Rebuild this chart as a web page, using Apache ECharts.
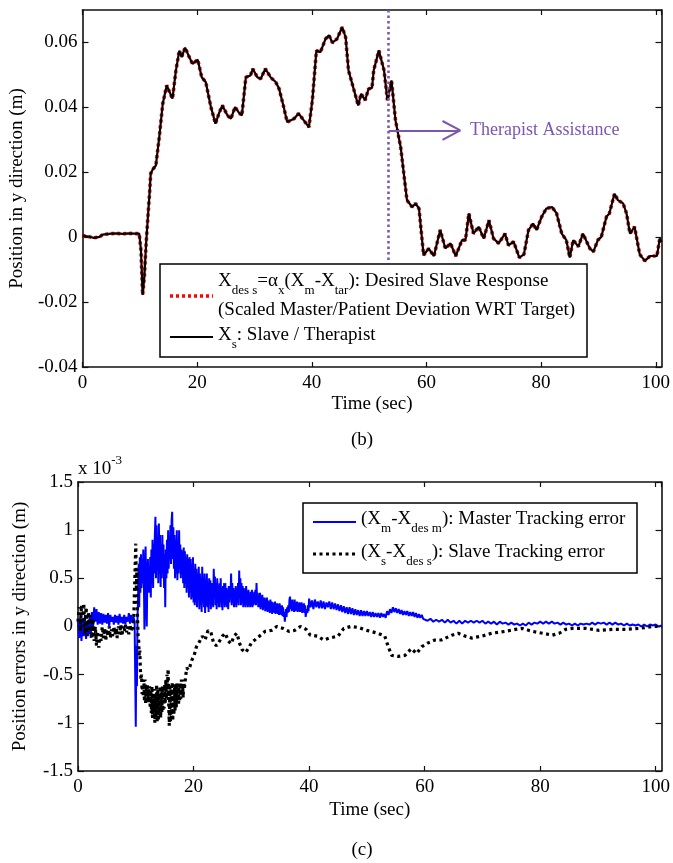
<!DOCTYPE html>
<html>
<head>
<meta charset="utf-8">
<script src="https://cdn.jsdelivr.net/npm/echarts@6/dist/echarts.min.js"></script>
<style>
  html, body { margin: 0; padding: 0; background: #fff; }
  #chart { width: 673px; height: 863px; }
</style>
</head>
<body>
<div id="chart"></div>
<script>
const SERIF = '"Liberation Serif", "Times New Roman", serif';
const FS = 19;
const PURPLE = '#7d56ad';

// (b) slave position in y (m) over time (sec); desired and actual overlap within the line width
const posTime = [0,1,2,3,3.5,5,6,7,8,9,9.9,10.2,10.5,10.8,11.1,11.4,11.7,11.9,12.3,12.8,13.4,14.0,14.7,15.0,15.3,15.7,16.3,16.9,17.3,17.9,18.5,19.2,20.1,20.8,21.5,22.4,23.2,23.8,24.4,25.3,25.9,26.6,27.2,27.8,28.5,29.3,29.7,30.5,31.1,31.9,32.8,33.7,34.3,35.1,35.7,36.9,37.7,38.6,39.5,40.1,40.8,41.5,42.4,43.0,43.6,44.4,45.3,45.9,46.4,47.3,48.1,48.6,49.3,49.9,50.5,50.8,51.7,52.6,53.2,53.9,54.6,55.5,56.6,57.5,58.1,58.7,59.5,60.4,61.3,62.4,63.3,64.2,65.1,66.2,66.8,67.4,68.2,69.1,70.0,70.9,71.7,72.6,73.7,74.3,75.2,76.2,77.0,77.8,78.6,79.2,80.1,80.9,81.9,82.7,83.6,84.4,85.0,85.6,86.5,87.3,88.5,89.1,89.9,90.5,91.4,91.9,92.8,93.4,94.3,94.9,95.5,96.3,97.2,98.1,99.0,100.2,100.7,101];
const slavePos = [0.0005,0.0002,-0.0002,0.0001,0.0008,0.0011,0.0012,0.0010,0.0012,0.0011,0.0011,-0.004,-0.0178,-0.012,-0.002,0.006,0.0134,0.0196,0.021,0.0221,0.0309,0.0411,0.0468,0.0455,0.0452,0.0427,0.0514,0.0575,0.0555,0.0584,0.0560,0.0534,0.0547,0.0493,0.0478,0.0401,0.0350,0.0381,0.0406,0.0375,0.0365,0.0401,0.0386,0.0375,0.0493,0.0498,0.0519,0.0493,0.0488,0.0519,0.0493,0.0478,0.0457,0.0401,0.0355,0.0365,0.0381,0.0360,0.0339,0.0422,0.0575,0.0570,0.0611,0.0622,0.0599,0.0611,0.0647,0.0616,0.0514,0.0457,0.0406,0.0442,0.0422,0.0457,0.0460,0.0514,0.0575,0.0514,0.0422,0.0483,0.0360,0.0278,0.0114,0.0093,0.0104,0.0088,-0.0055,-0.0035,-0.0058,0.0022,-0.0035,-0.0019,-0.0058,-0.0009,-0.0009,0.0073,0.0011,0.0032,-0.0004,0.0052,-0.0004,-0.0019,0.0011,-0.0025,-0.0014,-0.0063,-0.0053,0.0022,0.0042,0.0022,0.0063,0.0088,0.0093,0.0073,0.0011,-0.0009,-0.0063,-0.0009,-0.0029,0.0011,-0.0035,-0.0045,-0.0009,0.0001,0.0063,0.0073,0.0134,0.0114,0.0104,0.0073,0.0011,0.0032,-0.0053,-0.0073,-0.0058,-0.0058,-0.0004,-0.0015];

// (c) master tracking error (x 1e-3 m), recorded in blocks of fixed sample spacing
const masterEarly = [ // from 0 s, every 0.2 s
  0.05,-0.12,0.10,-0.15,0.08,-0.10,0.12,-0.13,0.05,-0.08,
  0.10,-0.12,0.15,0.00,0.20,0.05,0.18,0.02,0.15,0.03,
  0.14,0.02,0.13,0.04,0.12,0.03,0.14,0.00,0.12,0.05,
  0.10,0.02,0.12,0.04,0.11,0.02,0.13,0.04,0.10,0.03,
  0.12,0.02,0.10,0.05,0.14,0.03,0.12,0.04,0.10,0.05];
const masterSpikeTime = [10.0,10.1,10.2,10.3];
const masterSpike = [-1.04,-0.2,-0.62,0.1];
const masterDense = [ // from 10.4 s, every 0.1 s
  0.30,0.65,0.20,0.72,0.35,0.75,0.40,0.62,0.45,0.80,
  0.50,-0.03,0.55,0.83,0.30,0.00,0.50,0.70,0.35,0.60,
  0.35,0.72,0.30,0.80,0.45,0.90,0.40,0.85,0.55,0.95,
  1.14,0.50,1.05,0.60,0.90,0.45,1.07,0.55,0.95,0.41,
  0.85,0.50,0.95,0.60,0.85,0.40,0.75,0.20,0.80,0.50,
  0.90,0.55,1.00,0.60,0.95,0.70,1.05,0.65,1.10,1.19,
  0.70,1.03,0.60,0.95,0.50,0.90,0.55,1.00,0.48,0.85,
  0.55,1.00,0.60,0.85,0.50,0.80,0.55,0.78,0.45,0.82,
  0.40,0.78,0.45,0.72,0.35,0.75,0.40,0.70,0.30,0.72,
  0.35,0.70,0.28,0.65,0.30,0.72,0.25,0.60,0.22,0.65,
  0.25,0.60,0.20,0.55,0.30,0.62,0.18,0.55,0.22,0.50,
  0.15,0.62,0.25,0.50,0.20,0.55,0.14,0.48,0.22,0.55,
  0.20,0.45,0.15,0.50,0.25,0.48,0.18,0.45,0.22,0.42,
  0.20,0.60,0.30,0.52,0.22,0.45,0.18,0.50,0.25,0.42,
  0.20,0.45,0.25,0.50,0.20,0.40,0.17,0.42,0.25,0.45,
  0.20,0.45,0.22,0.40,0.20,0.38,0.18,0.42,0.25,0.40,
  0.30,0.55,0.22,0.45,0.25,0.40,0.20,0.38,0.22,0.42,
  0.20,0.40,0.25,0.45,0.22,0.58,0.30,0.50,0.22,0.45,
  0.25,0.42,0.20,0.40,0.22,0.38,0.20,0.42,0.25,0.36,
  0.20,0.38,0.22,0.35,0.20,0.36,0.21,0.38,0.20,0.34,
  0.22,0.36,0.24,0.38,0.22,0.45,0.25,0.35,0.20,0.33,
  0.20,0.35,0.18,0.32,0.20,0.33,0.17,0.30,0.19,0.30,
  0.16,0.28,0.17,0.30,0.15,0.27,0.16,0.26,0.14,0.28,
  0.15,0.26,0.13,0.25,0.15,0.24,0.14,0.26,0.13,0.24,
  0.14,0.24,0.13,0.23,0.12,0.24,0.13,0.22,0.12,0.22,
  0.11,0.20,0.10,0.15,0.05,0.12,0.18,0.10,0.20,0.14,
  0.22,0.15,0.28,0.31,0.18,0.27,0.16,0.28,0.17,0.26,
  0.15,0.28,0.16,0.25,0.17,0.26,0.15,0.24,0.16,0.25,
  0.15,0.24,0.16,0.25,0.14,0.23,0.15,0.24,0.14,0.22,
  0.10,0.08,0.18,0.14,0.22,0.16];
const masterMid = [ // from 40 s, every 0.25 s
  0.29,0.20,0.27,0.18,0.28,0.20,0.26,0.19,
  0.27,0.19,0.26,0.18,0.25,0.20,0.26,0.18,
  0.25,0.18,0.24,0.17,0.23,0.16,0.22,0.15,
  0.21,0.14,0.20,0.13,0.20,0.13,0.19,0.12,
  0.18,0.12,0.17,0.11,0.17,0.11,0.16,0.11,
  0.16,0.11,0.15,0.10,0.15,0.10,0.14,0.10,
  0.14,0.09,0.14,0.10,0.13,0.09,0.16,0.12,
  0.18,0.14,0.20,0.15,0.19,0.14,0.18,0.13,
  0.17,0.12,0.16,0.12,0.16,0.11,0.15,0.11,
  0.15,0.10,0.14,0.09,0.13,0.09,0.12,0.08];
const masterLate = [ // from 60 s, every 0.5 s
  0.09,0.06,0.08,0.05,0.07,0.05,0.07,0.04,
  0.07,0.04,0.06,0.03,0.06,0.03,0.06,0.04,
  0.06,0.04,0.06,0.04,0.06,0.03,0.05,0.03,
  0.05,0.02,0.05,0.03,0.04,0.02,0.04,0.02,
  0.03,0.01,0.03,0.01,0.04,0.02,0.04,0.03,
  0.05,0.03,0.05,0.03,0.05,0.03,0.04,0.02,
  0.04,0.02,0.03,0.01,0.03,0.01,0.03,0.02,
  0.03,0.02,0.04,0.02,0.04,0.03,0.04,0.02,
  0.04,0.02,0.04,0.02,0.03,0.01,0.03,0.01,
  0.02,0.01,0.02,0.00,0.02,0.00,0.02,0.01,
  0.02,0.00,0.01];

// (c) slave tracking error (x 1e-3 m)
const slaveEarly = [ // from 0 s, every 0.2 s
  0.05,0.20,-0.05,0.22,0.00,0.24,-0.08,0.20,-0.10,0.15,
  -0.05,0.12,-0.12,0.08,-0.15,0.00,-0.20,-0.05,-0.22,-0.08,
  -0.15,0.00,-0.12,-0.02,-0.15,-0.03,-0.10,0.00,-0.12,-0.03,
  -0.10,0.00,-0.08,-0.02,-0.12,0.00,-0.08,0.02,-0.10,0.00,
  -0.05,0.02,-0.06,0.00,-0.08,0.02,-0.05,0.00,-0.03,-0.02];
const slaveSpikeTime = [10.0,10.1,10.2,10.3,10.4];
const slaveSpike = [0.86,0.4,0.6,0.1,-0.1];
const slaveDense = [ // from 10.5 s, every 0.1 s
  -0.15,-0.30,-0.25,-0.45,-0.55,-0.50,-0.70,-0.60,-0.73,-0.55,
  -0.78,-0.55,-0.80,-0.62,-0.72,-0.60,-0.78,-0.65,-0.80,-0.62,
  -0.85,-0.65,-0.90,-0.62,-0.95,-0.70,-0.88,-0.65,-1.00,-0.70,
  -0.95,-0.60,-1.00,-0.65,-0.98,-0.70,-0.92,-0.62,-0.95,-0.68,
  -0.90,-0.62,-0.88,-0.65,-0.85,-0.60,-0.80,-0.55,-0.75,-0.50,
  -0.62,-0.44,-0.80,-1.03,-0.60,-1.00,-0.65,-0.95,-0.58,-0.98,
  -0.65,-0.92,-0.60,-0.88,-0.62,-0.85,-0.58,-0.80,-0.62,-0.82,
  -0.60,-0.78,-0.58,-0.75,-0.55,-0.72,-0.60,-0.74,-0.55,-0.65];
const slaveTailTime = [18.8,19.2,19.7,20.1,20.5,21.0,21.5,22.0,22.5,23.0,23.5,24.0,24.5,25.0,25.5,26.0,26.5,27.0,27.5,28.0,28.4,29.0,29.6,30.0,31.0,32.4,33.5,34.4,35.5,36.5,37.5,38.5,39.5,40.2,41.5,42.5,43.5,45.0,46.0,47.2,48.5,50.0,51.9,53.1,53.7,54.3,55.4,56.6,57.7,58.6,59.5,60.6,61.8,62.9,64.7,65.8,67.0,68.1,69.9,71.6,74.0,75.7,76.9,78.6,80.4,82.1,83.3,84.4,85.6,87.9,90.2,92.5,94.8,97.1,99.4,101];
const slaveTail = [-0.43,-0.45,-0.35,-0.3,-0.21,-0.16,-0.1,-0.14,-0.04,-0.06,-0.18,-0.2,-0.15,-0.1,-0.07,-0.15,-0.18,-0.1,-0.07,-0.18,-0.24,-0.27,-0.22,-0.17,-0.12,-0.05,-0.04,0.0,-0.02,-0.05,-0.04,0.0,-0.03,-0.09,-0.1,-0.14,-0.12,-0.1,-0.02,0.0,-0.01,-0.04,-0.07,-0.1,-0.21,-0.3,-0.31,-0.3,-0.23,-0.28,-0.21,-0.17,-0.14,-0.14,-0.09,-0.07,-0.1,-0.12,-0.1,-0.07,-0.05,-0.03,-0.02,-0.05,-0.07,-0.09,-0.07,-0.03,-0.02,-0.02,-0.04,-0.03,-0.03,-0.02,0.0,0.0];

// therapist assistance marker (time in sec)
const assistTime = 53.4;

const pairs = (t, v) => t.map((x, i) => [x, v[i]]);
// block of readings taken at a fixed sample spacing
const sampled = (start, step, v) => v.map((y, i) => [+(start + i * step).toFixed(2), y]);

const masterData = [].concat(
  sampled(0, 0.2, masterEarly), pairs(masterSpikeTime, masterSpike),
  sampled(10.4, 0.1, masterDense), sampled(40, 0.25, masterMid), sampled(60, 0.5, masterLate));
const slaveErrData = [].concat(
  sampled(0, 0.2, slaveEarly), pairs(slaveSpikeTime, slaveSpike),
  sampled(10.5, 0.1, slaveDense), pairs(slaveTailTime, slaveTail));

// ---------- text helpers: runs of normal / subscript / superscript text ----------
const measureCtx = document.createElement('canvas').getContext('2d');
function textRuns(x, y, parts, size, color) {
  const out = [];
  let cx = x;
  parts.forEach(([s, kind]) => {
    const fs = kind ? 13 : size;
    const dy = kind === 'sub' ? 10 : (kind === 'sup' ? -8 : 0);
    const font = fs + 'px ' + SERIF;
    out.push({
      type: 'text', x: cx, y: y + dy,
      style: { text: s, font: font, fill: color || '#000', textAlign: 'left', textVerticalAlign: 'middle' }
    });
    measureCtx.font = font;
    cx += measureCtx.measureText(s).width;
  });
  return out;
}

// ---------- axes (boxed frame with inward ticks) ----------
const axisText = { fontFamily: SERIF, fontSize: FS, color: '#000' };
function xAxis(grid, max, position, name, nameGap) {
  const main = position === 'bottom';
  return {
    type: 'value', gridIndex: grid, position: position, min: 0, max: max, interval: 20,
    axisLine: { show: true, onZero: false, lineStyle: { color: '#111', width: 1.6 } },
    axisTick: { show: true, inside: true, length: 5, lineStyle: { color: '#111', width: 1.2 } },
    axisLabel: { show: main, ...axisText, margin: 7, showMaxLabel: false },
    splitLine: { show: false },
    name: main ? name : '', nameLocation: 'middle', nameGap: nameGap,
    nameTextStyle: axisText
  };
}
function yAxis(grid, min, max, interval, position, showMax, name, nameGap) {
  const main = position === 'left';
  return {
    type: 'value', gridIndex: grid, position: position, min: min, max: max, interval: interval,
    axisLine: { show: true, onZero: false, lineStyle: { color: '#111', width: 1.6 } },
    axisTick: { show: true, inside: true, length: 6, lineStyle: { color: '#111', width: 1.2 } },
    axisLabel: { show: main, ...axisText, margin: 5, showMaxLabel: showMax },
    splitLine: { show: false },
    name: main ? name : '', nameLocation: 'middle', nameGap: nameGap,
    nameTextStyle: axisText
  };
}

const chart = echarts.init(document.getElementById('chart'), null, { renderer: 'canvas' });

// legend boxes and annotations
const graphics = [];
graphics.push({ type: 'rect', shape: { x: 160, y: 264, width: 427, height: 93 },
  style: { fill: '#fff', stroke: '#000', lineWidth: 1.5 }, z: 100 });
graphics.push({ type: 'line', shape: { x1: 170, y1: 296, x2: 213, y2: 296 },
  style: { stroke: '#ff0000', lineWidth: 3.5, lineDash: [3, 3] }, z: 101 });
graphics.push({ type: 'line', shape: { x1: 170, y1: 337, x2: 213, y2: 337 },
  style: { stroke: '#000', lineWidth: 2.2 }, z: 101 });
graphics.push(...textRuns(218, 281, [['X'], ['des s', 'sub'], ['=\u03b1'], ['x', 'sub'], ['(X'], ['m', 'sub'], ['-X'], ['tar', 'sub'], ['): Desired Slave Response']], FS));
graphics.push(...textRuns(218, 310, [['(Scaled Master/Patient Deviation WRT Target)']], FS));
graphics.push(...textRuns(218, 335, [['X'], ['s', 'sub'], [': Slave / Therapist']], FS));

graphics.push({ type: 'rect', shape: { x: 303, y: 503, width: 334, height: 70 },
  style: { fill: '#fff', stroke: '#000', lineWidth: 1.5 }, z: 100 });
graphics.push({ type: 'line', shape: { x1: 313, y1: 522, x2: 356, y2: 522 },
  style: { stroke: '#0000ff', lineWidth: 2 }, z: 101 });
graphics.push({ type: 'line', shape: { x1: 313, y1: 554, x2: 356, y2: 554 },
  style: { stroke: '#000', lineWidth: 3.2, lineDash: [3, 3.5] }, z: 101 });
graphics.push(...textRuns(361, 519, [['(X'], ['m', 'sub'], ['-X'], ['des m', 'sub'], ['): Master Tracking error']], FS));
graphics.push(...textRuns(361, 552, [['(X'], ['s', 'sub'], ['-X'], ['des s', 'sub'], ['): Slave Tracking error']], FS));

graphics.push(...textRuns(78, 469, [['x 10'], ['-3', 'sup']], FS));
graphics.push({ type: 'text', x: 362, y: 440, style: { text: '(b)', font: FS + 'px ' + SERIF, fill: '#000', textAlign: 'center', textVerticalAlign: 'middle' } });
graphics.push({ type: 'text', x: 362, y: 850, style: { text: '(c)', font: FS + 'px ' + SERIF, fill: '#000', textAlign: 'center', textVerticalAlign: 'middle' } });
graphics.forEach(g => { if (g.z === undefined) g.z = 102; });

const option = {
  animation: false,
  backgroundColor: '#fff',
  grid: [
    { left: 80, top: 10, width: 582, height: 357 },
    { left: 78, top: 482, width: 584, height: 289 }
  ],
  xAxis: [
    xAxis(0, 101, 'bottom', 'Time (sec)', 28),
    xAxis(0, 101, 'top'),
    xAxis(1, 101, 'bottom', 'Time (sec)', 30),
    xAxis(1, 101, 'top')
  ],
  yAxis: [
    yAxis(0, -0.04, 0.07, 0.02, 'left', false, 'Position in y direction (m)', 53),
    yAxis(0, -0.04, 0.07, 0.02, 'right', false),
    yAxis(1, -1.5, 1.5, 0.5, 'left', true, 'Position errors in y direction (m)', 48),
    yAxis(1, -1.5, 1.5, 0.5, 'right', true)
  ],
  series: [
    {
      name: 'Desired slave response', type: 'line', xAxisIndex: 0, yAxisIndex: 0,
      data: pairs(posTime, slavePos), showSymbol: false, silent: true,
      lineStyle: { color: '#ff0000', width: 3.6, type: [3, 3] }, z: 2
    },
    {
      name: 'Slave / Therapist', type: 'line', xAxisIndex: 0, yAxisIndex: 0,
      data: pairs(posTime, slavePos), showSymbol: false, silent: true,
      lineStyle: { color: '#000', width: 2.2 }, z: 3,
      markLine: {
        silent: true, symbol: 'none', animation: false,
        label: { show: false },
        lineStyle: { color: PURPLE, width: 2, type: 'solid' },
        data: [
          [{ coord: [assistTime, 0.07], lineStyle: { color: PURPLE, width: 2.6, type: [2.5, 3] } },
           { coord: [assistTime, -0.008] }],
          [{ coord: [assistTime, 0.0329] }, { coord: [65.9, 0.0329] }],
          [{ coord: [62.8, 0.0358] }, { coord: [65.9, 0.0329] }],
          [{ coord: [62.8, 0.0300] }, { coord: [65.9, 0.0329] }]
        ]
      },
      markPoint: {
        silent: true, symbol: 'circle', symbolSize: 0,
        label: { show: true, position: 'right', distance: 0, formatter: 'Therapist Assistance',
          fontFamily: SERIF, fontSize: 18, color: PURPLE },
        data: [{ coord: [67.6, 0.0329] }]
      }
    },
    {
      name: 'Master tracking error', type: 'line', xAxisIndex: 2, yAxisIndex: 2,
      data: masterData, showSymbol: false, silent: true,
      lineStyle: { color: '#0000ff', width: 2 }, z: 2
    },
    {
      name: 'Slave tracking error', type: 'line', xAxisIndex: 2, yAxisIndex: 2,
      data: slaveErrData, showSymbol: false, silent: true,
      lineStyle: { color: '#000', width: 3.2, type: [3, 3.5] }, z: 3
    }
  ],
  graphic: graphics
};
chart.setOption(option);
</script>
</body>
</html>
